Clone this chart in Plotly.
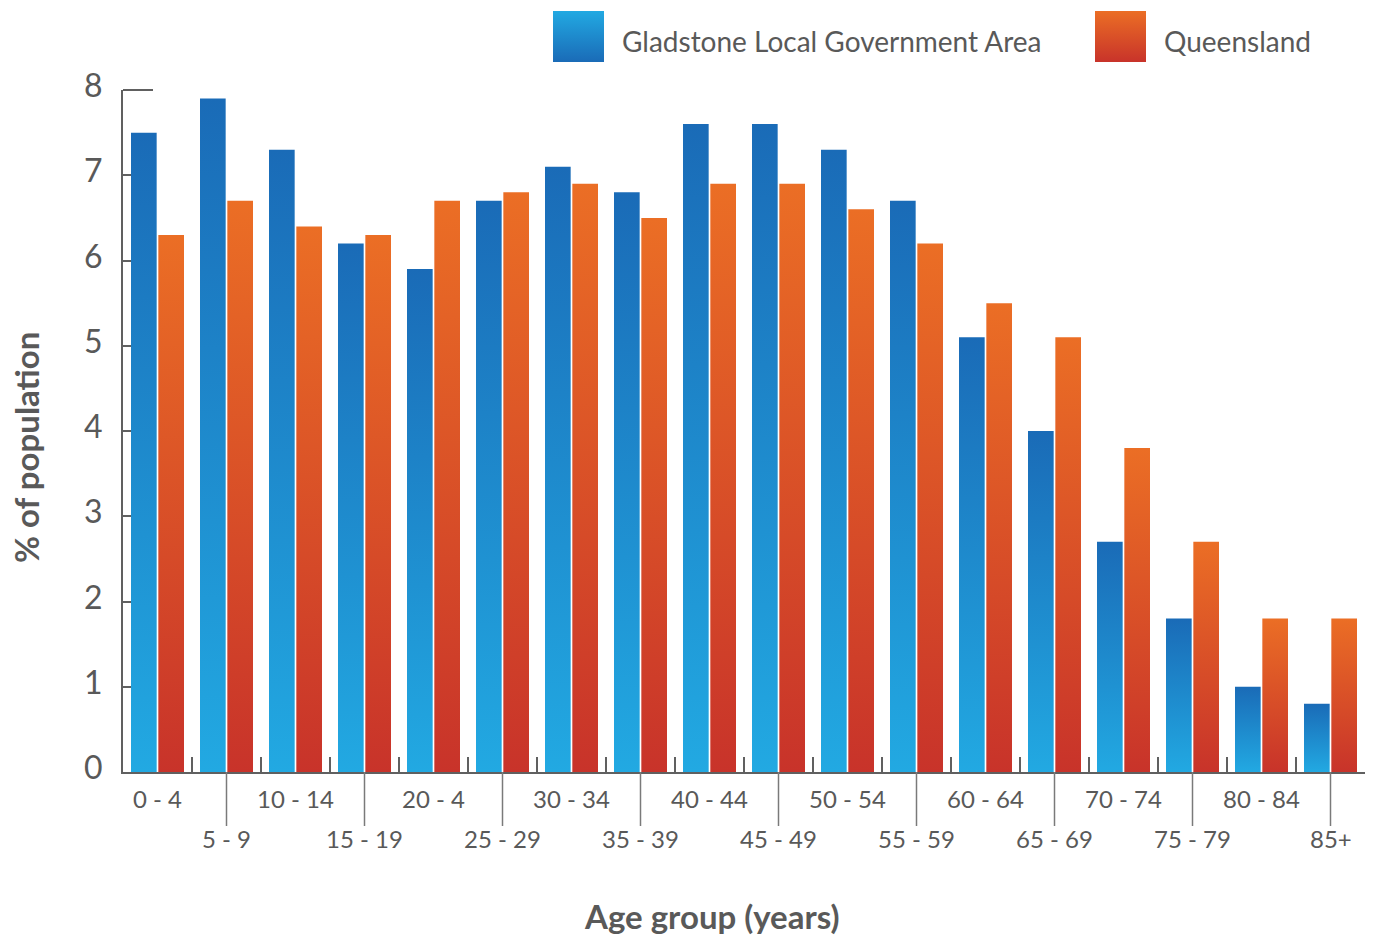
import plotly.graph_objects as go

# ---- data -------------------------------------------------------------
age_groups = ["0 - 4", "5 - 9", "10 - 14", "15 - 19", "20 - 4", "25 - 29",
              "30 - 34", "35 - 39", "40 - 44", "45 - 49", "50 - 54", "55 - 59",
              "60 - 64", "65 - 69", "70 - 74", "75 - 79", "80 - 84", "85+"]
gladstone = [7.5, 7.9, 7.3, 6.2, 5.9, 6.7, 7.1, 6.8, 7.6, 7.6, 7.3, 6.7,
             5.1, 4.0, 2.7, 1.8, 1.0, 0.8]
queensland = [6.3, 6.7, 6.4, 6.3, 6.7, 6.8, 6.9, 6.5, 6.9, 6.9, 6.6, 6.2,
              5.5, 5.1, 3.8, 2.7, 1.8, 1.8]
series_names = ["Gladstone Local Government Area", "Queensland"]
y_ticks = [0, 1, 2, 3, 4, 5, 6, 7, 8]

# ---- styling ----------------------------------------------------------
W, H = 1376, 937
PL, PR, PT, PB = 123, 1365, 90, 772          # plot box (pixels)
FONT = "Lato"
TEXT = "#595959"
AXIS = "#606060"
BLUE_LIGHT, BLUE_DARK = "#22a9e2", "#1a6bb7"
ORANGE, RED = "#eb6e25", "#c8332a"
HALF_W = 0.384      # outer half-width of a bar pair (category units)
INNER = 0.012       # half of the white gap between paired bars

fig = go.Figure()


def bar_poly(x0, x1, v, scale, name):
    return go.Scatter(
        x=[x0, x1, x1, x0, x0], y=[0, 0, v, v, 0],
        mode="lines", fill="toself", line=dict(width=0),
        fillgradient=dict(type="vertical", colorscale=scale),
        hoverinfo="text", text=f"{name}: {v}%",
        showlegend=False, xaxis="x", yaxis="y",
    )


blue_scale = [[0, BLUE_LIGHT], [1, BLUE_DARK]]
orange_scale = [[0, RED], [1, ORANGE]]

for i, (g, q) in enumerate(zip(gladstone, queensland)):
    fig.add_trace(bar_poly(i - HALF_W, i - INNER, g, blue_scale, series_names[0]))
    fig.add_trace(bar_poly(i + INNER, i + HALF_W, q, orange_scale, series_names[1]))

# ---- legend swatches on a full-page pixel frame -----------------------
def swatch(x0, y0, size, scale):
    return go.Scatter(
        x=[x0, x0 + size, x0 + size, x0, x0],
        y=[y0, y0, y0 + size, y0 + size, y0],
        mode="lines", fill="toself", line=dict(width=0),
        fillgradient=dict(type="vertical", colorscale=scale),
        hoverinfo="skip", showlegend=False, xaxis="x2", yaxis="y2",
    )


# blue swatch: light at the top, dark at the bottom; orange: orange to red
fig.add_trace(swatch(553, 11, 51, [[0, BLUE_DARK], [1, BLUE_LIGHT]]))
fig.add_trace(swatch(1095, 11, 51, [[0, RED], [1, ORANGE]]))

annotations = [
    dict(text=series_names[0], x=620 / W, y=1 - 41 / H, xref="paper", yref="paper",
         xanchor="left", yanchor="middle", showarrow=False,
         font=dict(family=FONT, size=28, color=TEXT)),
    dict(text=series_names[1], x=1162 / W, y=1 - 41 / H, xref="paper", yref="paper",
         xanchor="left", yanchor="middle", showarrow=False,
         font=dict(family=FONT, size=28, color=TEXT)),
    dict(text="% of population", x=26 / W, y=1 - 448 / H, xref="paper", yref="paper",
         xanchor="center", yanchor="middle", textangle=-90, showarrow=False,
         font=dict(family=FONT, size=33, color=TEXT, weight="bold")),
    dict(text="Age group (years)", x=712 / W, y=1 - 916 / H, xref="paper", yref="paper",
         xanchor="center", yanchor="middle", showarrow=False,
         font=dict(family=FONT, size=33, color=TEXT, weight="bold")),
]

shapes = [
    # long tick at the top of the value axis
    dict(type="line", xref="x2", yref="y2", x0=PL, x1=PL + 30, y0=PT, y1=PT,
         line=dict(color=AXIS, width=2)),
]

# category labels, staggered on two rows
for i, lab in enumerate(age_groups):
    low = i % 2 == 1
    annotations.append(dict(
        text=lab, x=i, xref="x", y=1 - (838 if low else 798) / H, yref="paper",
        xanchor="center", yanchor="middle", showarrow=False,
        font=dict(family=FONT, size=24, color=TEXT)))
    if low:
        shapes.append(dict(type="line", xref="x", yref="paper", x0=i, x1=i,
                           y0=1 - PB / H, y1=1 - 826 / H,
                           line=dict(color="#7a7a7a", width=1.5)))

fig.update_layout(
    width=W, height=H, autosize=False,
    margin=dict(l=0, r=0, t=0, b=0, pad=0, autoexpand=False),
    paper_bgcolor="white", plot_bgcolor="rgba(0,0,0,0)",
    showlegend=False,
    xaxis=dict(domain=[PL / W, PR / W], range=[-0.5, len(age_groups) - 0.5],
               tickvals=[i + 0.5 for i in range(len(age_groups))],
               showticklabels=False, ticks="inside", ticklen=15, tickwidth=2,
               tickcolor=AXIS, showline=True, linecolor=AXIS, linewidth=2,
               showgrid=False, zeroline=False, fixedrange=True, automargin=False),
    yaxis=dict(domain=[1 - PB / H, 1 - PT / H], range=[0, 8], tickvals=y_ticks,
               ticks="inside", ticklen=8, tickwidth=2, tickcolor=AXIS,
               showline=True, linecolor=AXIS, linewidth=2, showgrid=False,
               zeroline=False, ticklabelstandoff=12, ticklabelshift=-4,
               automargin=False,
               tickfont=dict(family=FONT, size=32, color=TEXT), fixedrange=True),
    xaxis2=dict(domain=[0, 1], range=[0, W], anchor="y2", visible=False,
                fixedrange=True, automargin=False),
    yaxis2=dict(domain=[0, 1], range=[H, 0], anchor="x2", visible=False,
                fixedrange=True, automargin=False),
    annotations=annotations,
    shapes=shapes,
)

fig.write_html("out.html")
